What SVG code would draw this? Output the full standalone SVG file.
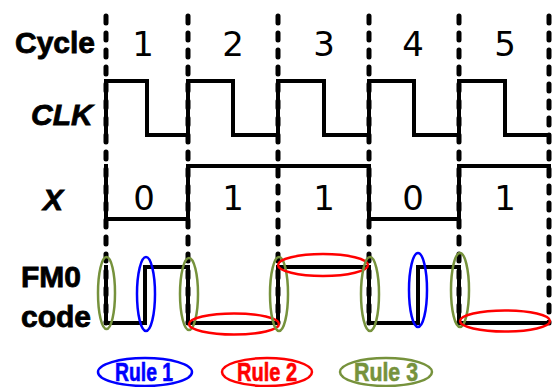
<svg xmlns="http://www.w3.org/2000/svg" width="556" height="387" viewBox="0 0 556 387">
<style>
.lbl{font-family:"Liberation Sans",Arial,sans-serif;font-weight:bold;font-size:30px;fill:#000;stroke:#000;stroke-width:0.8}
.ital{font-style:italic}
.num{font-family:"DejaVu Sans","Liberation Sans",sans-serif;font-size:34px;fill:#000;text-anchor:middle}
.grid{stroke:#000;stroke-width:5;stroke-dasharray:7 10;stroke-linecap:round;fill:none}
.sig{stroke:#000;stroke-width:4;fill:none;stroke-linejoin:miter;stroke-linecap:square}
.r1{stroke:#0000FF;stroke-width:2.5;fill:none}
.r2{stroke:#FF0000;stroke-width:2.5;fill:none}
.r3{stroke:#76923C;stroke-width:2.5;fill:none}
.leg{font-family:"Liberation Sans",Arial,sans-serif;font-weight:bold;font-size:25px;text-anchor:middle;stroke-width:0.6}
</style>
<rect width="556" height="387" fill="#fff"/>
<g id="labels">
<text class="lbl" x="15" y="53">Cycle</text>
<text class="lbl ital" x="31" y="125" font-size="29">CLK</text>
<text class="lbl ital" x="43" y="210">X</text>
<text class="lbl" x="21" y="287">FM0</text>
<text class="lbl" x="21" y="327" font-size="29">code</text>
</g>
<g id="cycle-numbers">
<text class="num" x="143" y="56">1</text>
<text class="num" x="233" y="56">2</text>
<text class="num" x="324" y="56">3</text>
<text class="num" x="413" y="56">4</text>
<text class="num" x="505" y="56">5</text>
</g>
<g id="x-values">
<text class="num" x="144" y="210">0</text>
<text class="num" x="233" y="210">1</text>
<text class="num" x="324" y="210">1</text>
<text class="num" x="413" y="210">0</text>
<text class="num" x="505" y="210">1</text>
</g>
<g id="connectors">
<g id="cycle-boundaries">
<line class="grid" x1="106" y1="16" x2="106" y2="323"/>
<line class="grid" x1="188" y1="16" x2="188" y2="323"/>
<line class="grid" x1="278" y1="16" x2="278" y2="323"/>
<line class="grid" x1="369" y1="16" x2="369" y2="323"/>
<line class="grid" x1="459" y1="16" x2="459" y2="323"/>
<line class="grid" x1="549" y1="16" x2="549" y2="323"/>
</g>
<path id="clk" class="sig" d="M106,135 V81 H147 V135 H188 V81 H233 V135 H278 V81 H324 V135 H369 V81 H414 V135 H459 V81 H505 V135 H549"/>
<path id="x" class="sig" d="M106,166 V219 H188 V166 H369 V219 H459 V166 H549"/>
<path id="fm0" class="sig" d="M106,267 V323 H145 V267 H188 V323 H278 V267 H369 V323 H418 V267 H459 V323 H549"/>
</g>
<g id="rule-marks">
<ellipse class="r3" cx="106.5" cy="293" rx="8.5" ry="36"/>
<ellipse class="r1" cx="146" cy="294" rx="9" ry="37"/>
<ellipse class="r3" cx="189" cy="294" rx="9" ry="36"/>
<ellipse class="r2" cx="234" cy="324" rx="45" ry="10.5"/>
<ellipse class="r3" cx="279" cy="294" rx="9" ry="37"/>
<ellipse class="r2" cx="323" cy="265" rx="45" ry="11"/>
<ellipse class="r3" cx="370" cy="294" rx="9" ry="37"/>
<ellipse class="r1" cx="418" cy="290" rx="9" ry="37"/>
<ellipse class="r3" cx="460" cy="290" rx="9" ry="37"/>
<ellipse class="r2" cx="505" cy="321" rx="45" ry="10.5"/>
</g>
<g id="legend-rule1">
<ellipse class="r1" cx="145" cy="372" rx="47" ry="14"/>
<text class="leg" x="144" y="381" fill="#0000FF" stroke="#0000FF" textLength="58" lengthAdjust="spacingAndGlyphs">Rule 1</text>
</g>
<g id="legend-rule2">
<ellipse class="r2" cx="267" cy="372" rx="45" ry="14"/>
<text class="leg" x="267" y="381" fill="#FF0000" stroke="#FF0000" textLength="60" lengthAdjust="spacingAndGlyphs">Rule 2</text>
</g>
<g id="legend-rule3">
<ellipse class="r3" cx="386" cy="372" rx="46" ry="14"/>
<text class="leg" x="386" y="381" fill="#76923C" stroke="#76923C" textLength="64" lengthAdjust="spacingAndGlyphs">Rule 3</text>
</g>
</svg>
